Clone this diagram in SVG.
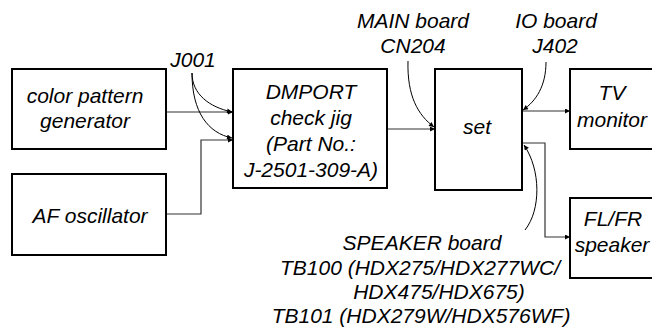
<svg xmlns="http://www.w3.org/2000/svg" width="652" height="330" viewBox="0 0 652 330">
<style>
.box{fill:#fff;stroke:#000;stroke-width:2}
.t{font-family:"Liberation Sans",Arial,sans-serif;font-style:italic;font-size:21px;fill:#000;text-anchor:middle}
.w{fill:none;stroke:#333;stroke-width:1.2}
.c{fill:none;stroke:#000;stroke-width:1}
</style>
<defs>
<marker id="ah" viewBox="0 0 10 10" refX="10" refY="5" markerWidth="7" markerHeight="5" markerUnits="userSpaceOnUse" orient="auto">
<path d="M0,0 L10,5 L0,10 z" fill="#000"/>
</marker>
</defs>
<rect width="652" height="330" fill="#fff"/>
<g id="connectors">
<path class="w" d="M166,112 H233" marker-end="url(#ah)"/>
<path class="w" d="M166,214 H201 V140 H233" marker-end="url(#ah)"/>
<path class="w" d="M387,129 H435" marker-end="url(#ah)"/>
<path class="w" d="M522,111 H570" marker-end="url(#ah)"/>
<path class="w" d="M522,143 H545 V237 H570" marker-end="url(#ah)"/>
<path class="c" d="M192,73 C192,94 209,107 232,112" marker-end="url(#ah)"/>
<path class="c" d="M192,73 C192,112 208,133 232,138" marker-end="url(#ah)"/>
<path class="c" d="M408,61 C407,96 418,115 434,127" marker-end="url(#ah)"/>
<path class="c" d="M546,62 C546,86 536,101 523,110" marker-end="url(#ah)"/>
<path class="c" d="M525,230 C541,210 541,170 524,145" marker-end="url(#ah)"/>
</g>
<g id="cpg">
<rect class="box" x="12" y="69" width="154" height="80"/>
<text class="t" x="85" y="103">color pattern</text>
<text class="t" x="85" y="128">generator</text>
</g>
<g id="afosc">
<rect class="box" x="12" y="174" width="154" height="81"/>
<text class="t" x="90" y="223">AF oscillator</text>
</g>
<g id="dmport">
<rect class="box" x="233" y="69" width="154" height="119"/>
<text class="t" x="311" y="99">DMPORT</text>
<text class="t" x="311" y="125">check jig</text>
<text class="t" x="311" y="151">(Part No.:</text>
<text class="t" x="311" y="177">J-2501-309-A)</text>
</g>
<g id="set">
<rect class="box" x="435" y="69" width="87" height="121"/>
<text class="t" x="477" y="134">set</text>
</g>
<g id="tv">
<rect class="box" x="570" y="69" width="100" height="80"/>
<text class="t" x="612" y="100">TV</text>
<text class="t" x="612" y="127">monitor</text>
</g>
<g id="spk">
<rect class="box" x="570" y="198" width="100" height="80"/>
<text class="t" x="613" y="226">FL/FR</text>
<text class="t" x="612" y="252">speaker</text>
</g>
<g id="labels">
<text class="t" x="193" y="67">J001</text>
<text class="t" x="413" y="28">MAIN board</text>
<text class="t" x="413" y="53">CN204</text>
<text class="t" x="556" y="28">IO board</text>
<text class="t" x="555" y="53">J402</text>
<text class="t" x="422" y="250">SPEAKER board</text>
<text class="t" x="420" y="275">TB100 (HDX275/HDX277WC/</text>
<text class="t" x="439" y="299">HDX475/HDX675)</text>
<text class="t" x="421" y="323">TB101 (HDX279W/HDX576WF)</text>
</g>
</svg>
